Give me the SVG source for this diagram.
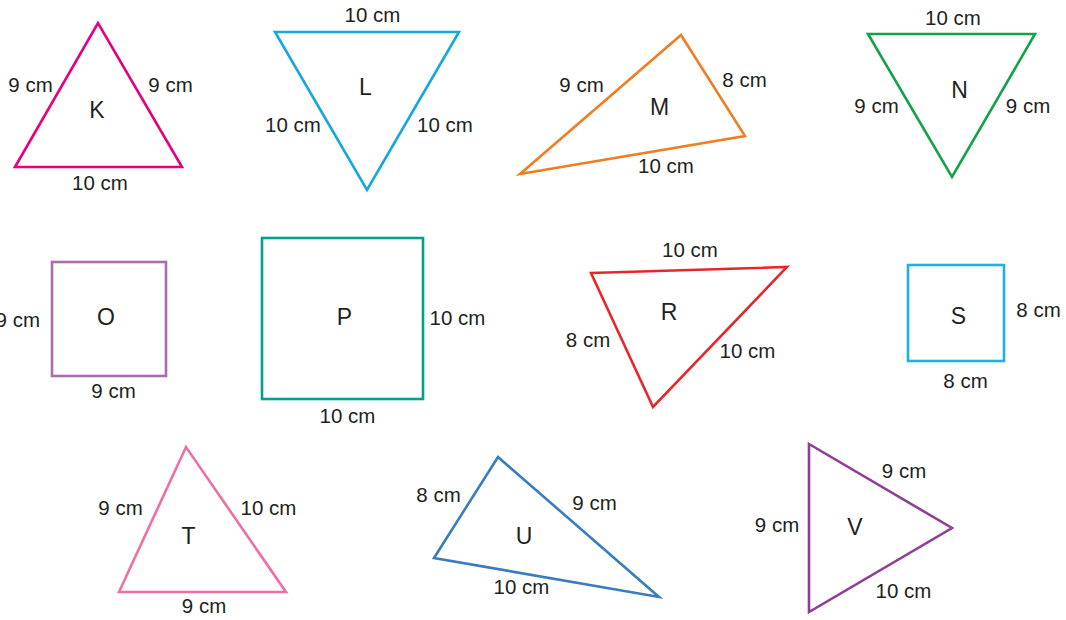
<svg xmlns="http://www.w3.org/2000/svg" width="1066" height="620" viewBox="0 0 1066 620">
<style>
.s{fill:none;stroke-width:2.6;stroke-linejoin:miter}
.m{font-family:"Liberation Sans",Arial,sans-serif;font-size:20.5px;fill:#231f20;text-anchor:middle}
.l{font-family:"Liberation Sans",Arial,sans-serif;font-size:23px;fill:#231f20;text-anchor:middle}
</style>
<rect width="1066" height="620" fill="#fff"/>
<g id="K">
<polygon class="s" stroke="#e5007d" points="15,167 98,23 182,167"/>
<text class="m" x="30.5" y="92">9 cm</text>
<text class="m" x="170.5" y="92">9 cm</text>
<text class="m" x="100" y="190">10 cm</text>
<text class="l" x="97" y="118">K</text>
</g>
<g id="L">
<polygon class="s" stroke="#12a8e0" points="275,32 459,32 367,190"/>
<text class="m" x="372.5" y="22">10 cm</text>
<text class="l" x="365.5" y="95">L</text>
<text class="m" x="293" y="132">10 cm</text>
<text class="m" x="445" y="132">10 cm</text>
</g>
<g id="M">
<polygon class="s" stroke="#ef7d22" points="520,174 681,35 745,136"/>
<text class="m" x="581.5" y="92">9 cm</text>
<text class="m" x="744.5" y="87">8 cm</text>
<text class="l" x="659.5" y="115">M</text>
<text class="m" x="666" y="173">10 cm</text>
</g>
<g id="N">
<polygon class="s" stroke="#13a24a" points="868,34 1035,34 952,177"/>
<text class="m" x="953" y="25">10 cm</text>
<text class="l" x="959.5" y="98">N</text>
<text class="m" x="876.5" y="113">9 cm</text>
<text class="m" x="1028" y="113">9 cm</text>
</g>
<g id="O">
<rect class="s" stroke="#ab6cae" x="52" y="262" width="114" height="114"/>
<text class="m" x="40" y="327" style="text-anchor:end">9 cm</text>
<text class="l" x="106" y="325">O</text>
<text class="m" x="113.5" y="398">9 cm</text>
</g>
<g id="P">
<rect class="s" stroke="#00a28a" x="262" y="238" width="161" height="161"/>
<text class="l" x="344.5" y="325">P</text>
<text class="m" x="457.5" y="325">10 cm</text>
<text class="m" x="347.5" y="423">10 cm</text>
</g>
<g id="R">
<polygon class="s" stroke="#e8252a" points="591,273 787,267 653,407"/>
<text class="m" x="690" y="257">10 cm</text>
<text class="l" x="669" y="320">R</text>
<text class="m" x="588" y="347">8 cm</text>
<text class="m" x="747.5" y="358">10 cm</text>
</g>
<g id="S">
<rect class="s" stroke="#20aee5" x="908" y="265" width="96" height="96"/>
<text class="l" x="958.5" y="324">S</text>
<text class="m" x="1038.5" y="317">8 cm</text>
<text class="m" x="965.5" y="388">8 cm</text>
</g>
<g id="T">
<polygon class="s" stroke="#ee6fa8" points="119,592 186,447 286,592"/>
<text class="m" x="120.5" y="515">9 cm</text>
<text class="m" x="268.5" y="515">10 cm</text>
<text class="l" x="188.5" y="544">T</text>
<text class="m" x="204" y="613">9 cm</text>
</g>
<g id="U">
<polygon class="s" stroke="#3a7cc0" points="434,558 498,457 659,597"/>
<text class="m" x="438.5" y="502">8 cm</text>
<text class="m" x="594.5" y="510">9 cm</text>
<text class="l" x="524" y="544">U</text>
<text class="m" x="521.5" y="594">10 cm</text>
</g>
<g id="V">
<polygon class="s" stroke="#8e3f95" points="809,444 952,528 809,612"/>
<text class="m" x="904" y="478">9 cm</text>
<text class="m" x="777" y="532">9 cm</text>
<text class="l" x="855" y="535">V</text>
<text class="m" x="903.5" y="598">10 cm</text>
</g>
<g id="connectors"/>
</svg>
